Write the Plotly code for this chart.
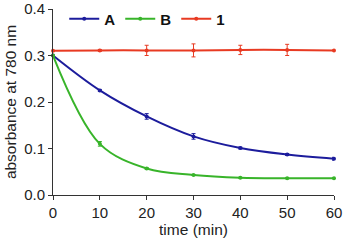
import plotly.graph_objects as go

time = [0, 10, 20, 30, 40, 50, 60]
a_vals = [0.300, 0.225, 0.169, 0.126, 0.101, 0.087, 0.078]
a_err = [0.0, 0.002, 0.006, 0.006, 0.002, 0.002, 0.003]
b_vals = [0.300, 0.110, 0.057, 0.043, 0.037, 0.036, 0.036]
b_err = [0.0, 0.005, 0.002, 0.001, 0.001, 0.001, 0.001]
c_vals = [0.310, 0.311, 0.311, 0.311, 0.312, 0.312, 0.311]
c_err = [0.0, 0.002, 0.011, 0.014, 0.010, 0.012, 0.0]

series = [
    ("A", a_vals, a_err, "#1c1c9c"),
    ("B", b_vals, b_err, "#38b42a"),
    ("1", c_vals, c_err, "#e83a22"),
]

fig = go.Figure()
for name, vals, err, col in series:
    fig.add_trace(go.Scatter(
        x=time, y=vals, name=name, mode="lines+markers",
        line=dict(color=col, width=2, shape="spline", smoothing=1.0),
        marker=dict(color=col, size=4),
        error_y=dict(type="data", array=err, visible=True, color=col, thickness=1, width=2),
        cliponaxis=False,
    ))

fig.update_layout(
    width=344, height=242,
    margin=dict(l=53, r=10, t=9, b=47, autoexpand=False),
    paper_bgcolor="white", plot_bgcolor="white",
    font=dict(family="Liberation Sans, Arial, sans-serif", size=15, color="#222"),
    showlegend=True,
    legend=dict(orientation="h", x=0.04, y=1.035, xanchor="left", yanchor="top",
                font=dict(size=15, color="#111", family="Liberation Sans, Arial, sans-serif", weight="bold"),
                bgcolor="rgba(0,0,0,0)", itemwidth=30, tracegroupgap=0),
    xaxis=dict(range=[0, 60], tickvals=[0, 10, 20, 30, 40, 50, 60], showgrid=False, zeroline=False,
               showline=True, linecolor="#333", linewidth=1, ticks="outside", ticklen=4, tickcolor="#333",
               ticklabeloverflow="allow",
               tickfont=dict(size=15), title=dict(text="time (min)", font=dict(size=15.5), standoff=3)),
    yaxis=dict(range=[0, 0.4], tickvals=[0, 0.1, 0.2, 0.3, 0.4], tickformat=".1f", showgrid=False, zeroline=False,
               showline=True, linecolor="#333", linewidth=1, ticks="outside", ticklen=4, tickcolor="#333",
               ticklabeloverflow="allow",
               tickfont=dict(size=15), title=dict(text="absorbance at 780 nm", font=dict(size=15.5), standoff=3)),
)

fig.write_html("out.html", config={"displayModeBar": False},
               post_script="document.body.style.margin='0';document.body.style.overflow='hidden';")
